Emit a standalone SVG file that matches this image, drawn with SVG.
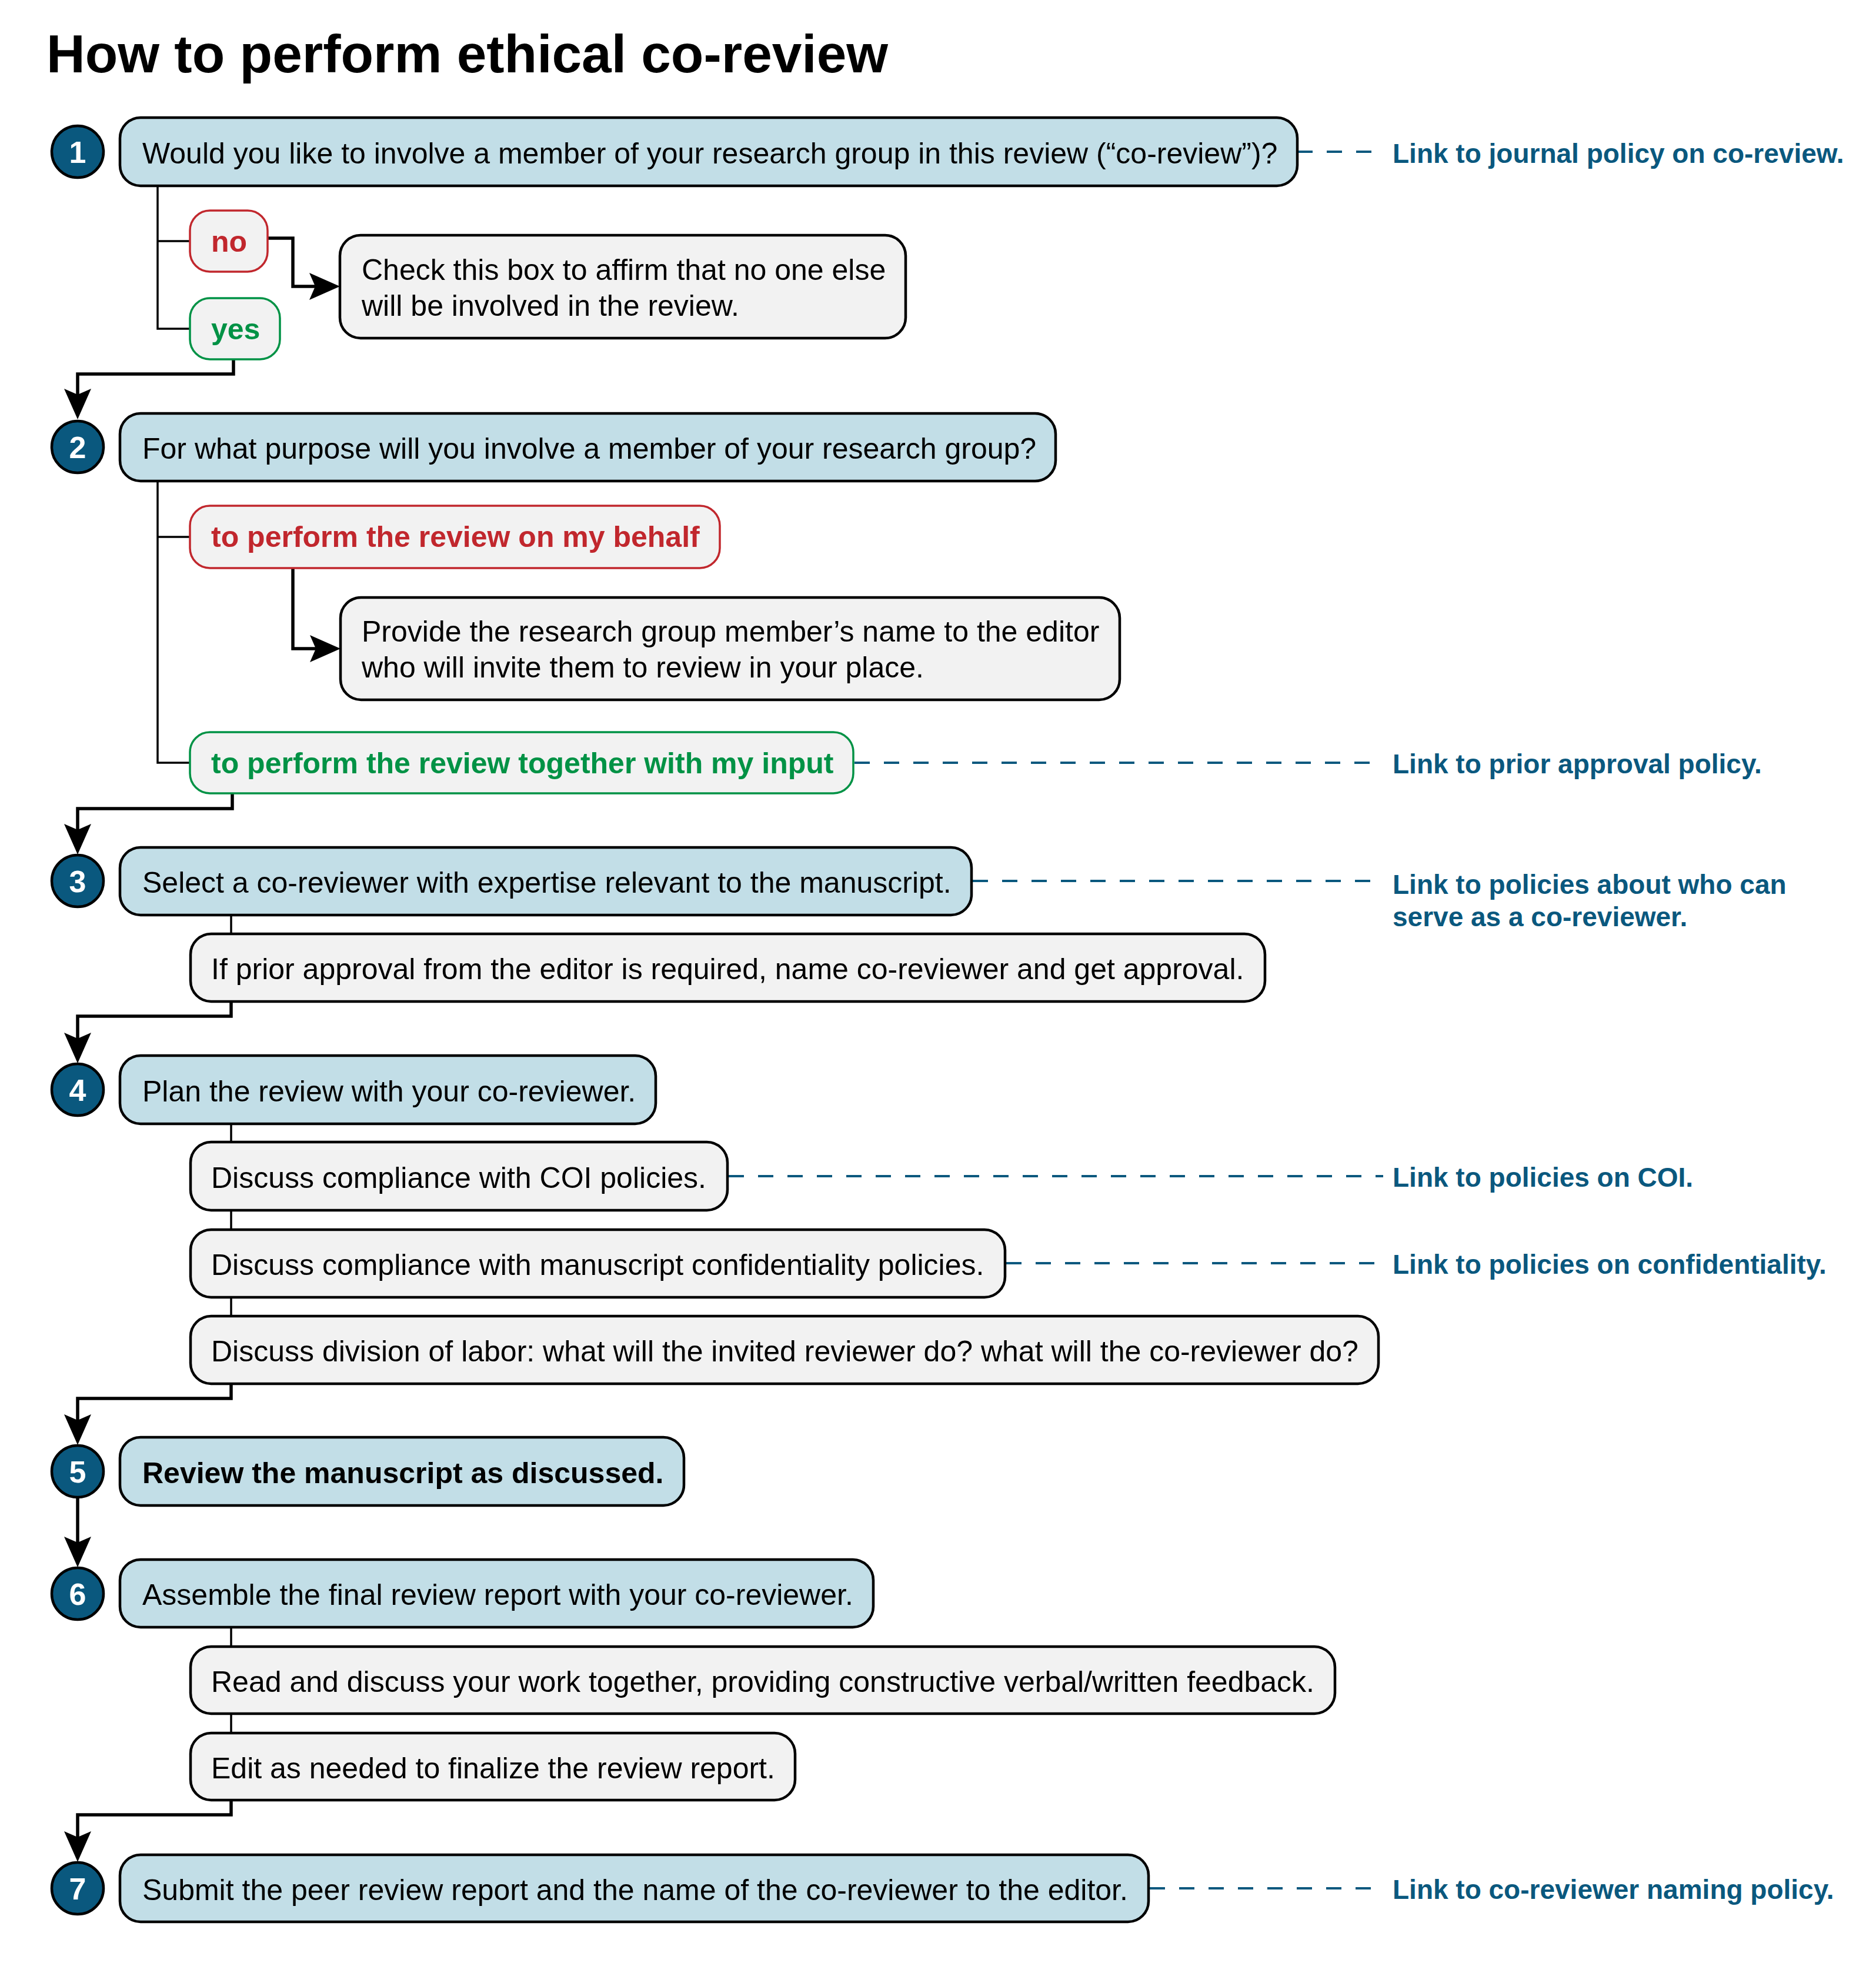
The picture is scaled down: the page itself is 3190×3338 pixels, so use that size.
<svg xmlns="http://www.w3.org/2000/svg" width="3190" height="3338" viewBox="0 0 3190 3338">
<style>
text{font-family:"Liberation Sans",Arial,Helvetica,sans-serif}
.title{font-size:91px;font-weight:bold;fill:#000}
.main{fill:#c2dee7;stroke:#000;stroke-width:4.5}
.sub{fill:#f2f2f2;stroke:#000;stroke-width:4.5}
.no{fill:#f2f2f2;stroke:#c1272d;stroke-width:3.5}
.yes{fill:#f2f2f2;stroke:#009245;stroke-width:3.5}
.t{font-size:50px;fill:#000}
.tb{font-size:50px;fill:#000;font-weight:bold}
.tr{font-size:50px;fill:#c1272d;font-weight:bold}
.tg{font-size:50px;fill:#009245;font-weight:bold}
.num circle{fill:#0a587e;stroke:#000;stroke-width:4.5}
.num text{font-size:52px;font-weight:bold;fill:#fff;text-anchor:middle}
.link{font-size:46px;font-weight:bold;fill:#0a587e}
.thin{fill:none;stroke:#000;stroke-width:3.5}
.thick{fill:none;stroke:#000;stroke-width:5.5;marker-end:url(#arr)}
.dash{fill:none;stroke:#0a587e;stroke-width:4;stroke-dasharray:26 24}
</style>
<defs>
<marker id="arr" viewBox="0 0 52 46" refX="37" refY="23" markerWidth="52" markerHeight="46" markerUnits="userSpaceOnUse" orient="auto">
<path d="M0,0 L52,23 L0,46 L10,23 Z" fill="#000"/>
</marker>
</defs>
<rect width="3190" height="3338" fill="#fff"/>
<text class="title" x="79" y="123">How to perform ethical co-review</text>

<g id="connectors">
<path class="thin" d="M268,316 V559 H323 M268,410 H323"/>
<path class="thin" d="M268,818 V1297 H323 M268,913 H323"/>
<path class="thin" d="M393,1556 V1588"/>
<path class="thin" d="M393,1911 V1942 M393,2058 V2091 M393,2206 V2238"/>
<path class="thin" d="M393,2767 V2800 M393,2914 V2947"/>
<path class="thick" d="M455,405 H498 V487 H563"/>
<path class="thick" d="M397,611 V636 H132 V698"/>
<path class="thick" d="M498,966 V1103 H564"/>
<path class="thick" d="M395,1349 V1375 H132 V1438"/>
<path class="thick" d="M393,1703 V1728 H132 V1793"/>
<path class="thick" d="M393,2353 V2378 H132 V2442"/>
<path class="thick" d="M132,2547 V2650"/>
<path class="thick" d="M393,3061 V3086 H132 V3151"/>
<path class="dash" d="M2206,258 H2352"/>
<path class="dash" d="M1453,1297 H2352"/>
<path class="dash" d="M1654,1498 H2352"/>
<path class="dash" d="M1239,2000 H2352"/>
<path class="dash" d="M1711,2148 H2352"/>
<path class="dash" d="M1955,3211 H2352"/>
</g>

<g id="step1">
<g class="num"><circle cx="132" cy="258" r="44"/><text x="132" y="277">1</text></g>
<rect class="main" x="204" y="200" width="2002" height="116" rx="35"/>
<text class="t" x="242" y="278">Would you like to involve a member of your research group in this review (“co-review”)?</text>
</g>
<g id="link1"><text class="link" x="2368" y="277">Link to journal policy on co-review.</text></g>
<g id="no">
<rect class="no" x="323" y="358" width="132" height="104" rx="34"/>
<text class="tr" x="359" y="428">no</text>
</g>
<g id="yes">
<rect class="yes" x="323" y="507" width="153" height="104" rx="34"/>
<text class="tg" x="359" y="577">yes</text>
</g>
<g id="check">
<rect class="sub" x="578" y="400" width="962" height="175" rx="35"/>
<text class="t" x="615" y="476">Check this box to affirm that no one else</text>
<text class="t" x="615" y="537">will be involved in the review.</text>
</g>

<g id="step2">
<g class="num"><circle cx="132" cy="760" r="44"/><text x="132" y="779">2</text></g>
<rect class="main" x="204" y="703" width="1591" height="115" rx="35"/>
<text class="t" x="242" y="780">For what purpose will you involve a member of your research group?</text>
</g>
<g id="behalf">
<rect class="no" x="323" y="860" width="901" height="106" rx="34"/>
<text class="tr" x="359" y="930">to perform the review on my behalf</text>
</g>
<g id="provide">
<rect class="sub" x="579" y="1016" width="1325" height="174" rx="35"/>
<text class="t" x="615" y="1091">Provide the research group member’s name to the editor</text>
<text class="t" x="615" y="1152">who will invite them to review in your place.</text>
</g>
<g id="together">
<rect class="yes" x="323" y="1245" width="1128" height="104" rx="34"/>
<text class="tg" x="359" y="1315">to perform the review together with my input</text>
</g>
<g id="link2"><text class="link" x="2368" y="1315">Link to prior approval policy.</text></g>

<g id="step3">
<g class="num"><circle cx="132" cy="1498" r="44"/><text x="132" y="1517">3</text></g>
<rect class="main" x="204" y="1441" width="1448" height="115" rx="35"/>
<text class="t" x="242" y="1518">Select a co-reviewer with expertise relevant to the manuscript.</text>
</g>
<g id="link3"><text class="link" x="2368" y="1520">Link to policies about who can</text><text class="link" x="2368" y="1575">serve as a co-reviewer.</text></g>
<g id="approval">
<rect class="sub" x="324" y="1588" width="1827" height="115" rx="35"/>
<text class="t" x="359" y="1665">If prior approval from the editor is required, name co-reviewer and get approval.</text>
</g>

<g id="step4">
<g class="num"><circle cx="132" cy="1853" r="44"/><text x="132" y="1872">4</text></g>
<rect class="main" x="204" y="1795" width="911" height="116" rx="35"/>
<text class="t" x="242" y="1873">Plan the review with your co-reviewer.</text>
</g>
<g id="coi">
<rect class="sub" x="324" y="1942" width="913" height="116" rx="35"/>
<text class="t" x="359" y="2020">Discuss compliance with COI policies.</text>
</g>
<g id="link4"><text class="link" x="2368" y="2018">Link to policies on COI.</text></g>
<g id="conf">
<rect class="sub" x="324" y="2091" width="1385" height="115" rx="35"/>
<text class="t" x="359" y="2168">Discuss compliance with manuscript confidentiality policies.</text>
</g>
<g id="link5"><text class="link" x="2368" y="2166">Link to policies on confidentiality.</text></g>
<g id="division">
<rect class="sub" x="324" y="2238" width="2020" height="115" rx="35"/>
<text class="t" x="359" y="2315">Discuss division of labor: what will the invited reviewer do? what will the co-reviewer do?</text>
</g>

<g id="step5">
<g class="num"><circle cx="132" cy="2502" r="44"/><text x="132" y="2521">5</text></g>
<rect class="main" x="204" y="2444" width="959" height="116" rx="35"/>
<text class="tb" x="242" y="2522">Review the manuscript as discussed.</text>
</g>

<g id="step6">
<g class="num"><circle cx="132" cy="2710" r="44"/><text x="132" y="2729">6</text></g>
<rect class="main" x="204" y="2652" width="1281" height="115" rx="35"/>
<text class="t" x="242" y="2729">Assemble the final review report with your co-reviewer.</text>
</g>
<g id="read">
<rect class="sub" x="324" y="2800" width="1946" height="114" rx="35"/>
<text class="t" x="359" y="2877">Read and discuss your work together, providing constructive verbal/written feedback.</text>
</g>
<g id="edit">
<rect class="sub" x="324" y="2947" width="1028" height="114" rx="35"/>
<text class="t" x="359" y="3024">Edit as needed to finalize the review report.</text>
</g>

<g id="step7">
<g class="num"><circle cx="132" cy="3211" r="44"/><text x="132" y="3230">7</text></g>
<rect class="main" x="204" y="3154" width="1749" height="114" rx="35"/>
<text class="t" x="242" y="3231">Submit the peer review report and the name of the co-reviewer to the editor.</text>
</g>
<g id="link6"><text class="link" x="2368" y="3229">Link to co-reviewer naming policy.</text></g>
</svg>
